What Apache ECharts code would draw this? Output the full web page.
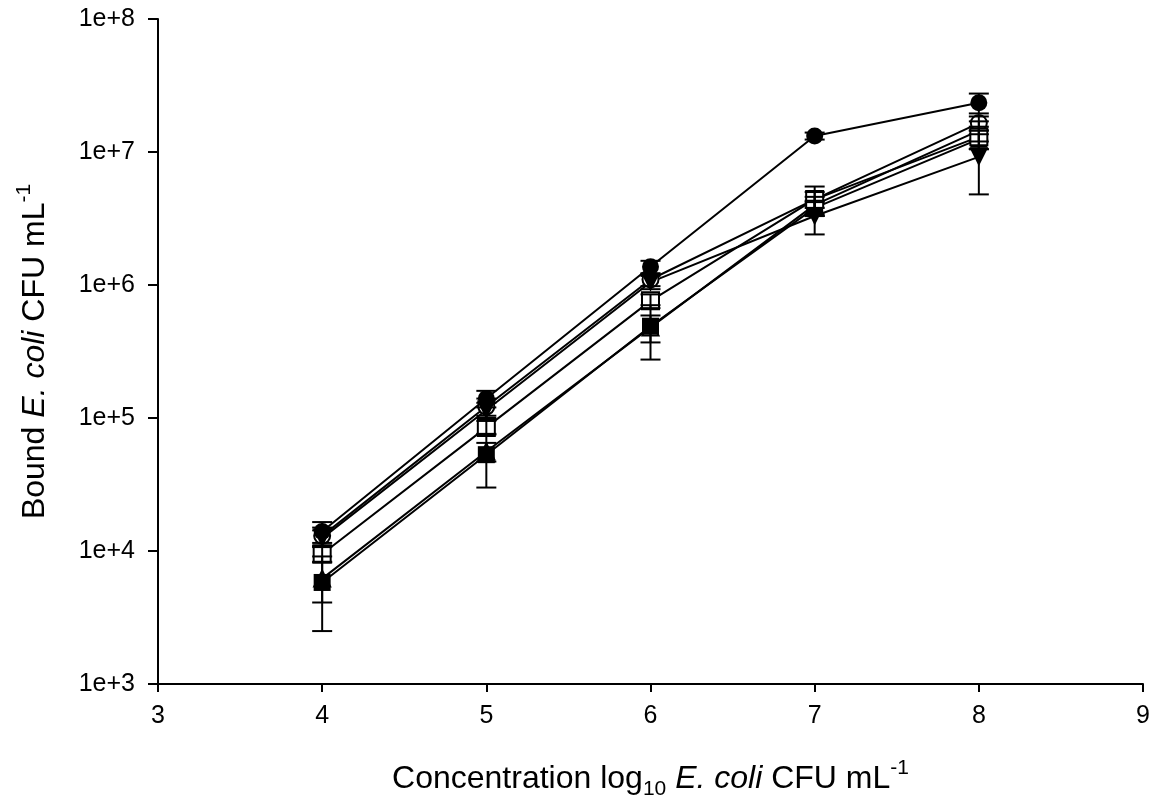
<!DOCTYPE html>
<html>
<head>
<meta charset="utf-8">
<script src="https://cdn.jsdelivr.net/npm/echarts@6/dist/echarts.min.js"></script>
<style>
html, body { margin: 0; padding: 0; background: #fff; }
#chart { width: 1154px; height: 805px; }
</style>
</head>
<body>
<div id="chart"></div>
<script>
// concentrations (log10 CFU/mL) on the x axis
var concentrations = [4, 5, 6, 7, 8];
var yTickLabels = ['1e+3', '1e+4', '1e+5', '1e+6', '1e+7', '1e+8'];

// bound E. coli, mean and error for each surface
var openTriangle      = [6.2e3, 5.6e4, 4.8e5, 4.0e6, 1.45e7];
var openTriangleErr   = [2.1e3, 9.0e3, 1.1e5, 6.0e5, 2.5e6];
var openCircle        = [1.3e4, 1.22e5, 1.1e6, 4.4e6, 1.65e7];
var openCircleErr     = [2.0e3, 1.8e4, 1.2e5, 6.0e5, 2.0e6];
var filledSquare      = [5.8e3, 5.3e4, 4.9e5, 3.8e6, 1.25e7];
var filledSquareErr   = [3.3e3, 2.3e4, 2.15e5, 5.0e5, 2.0e6];
var filledCircle      = [1.4e4, 1.4e5, 1.37e6, 1.32e7, 2.35e7];
var filledCircleErr   = [2.5e3, 2.0e4, 1.5e5, 8.0e5, 4.0e6];
var filledTriangle    = [1.25e4, 1.15e5, 1.05e6, 3.3e6, 9.2e6];
var filledTriangleErr = [1.8e3, 1.5e4, 1.2e5, 9.0e5, 4.4e6];
var openSquare        = [9.5e3, 8.5e4, 7.6e5, 4.4e6, 1.3e7];
var openSquareErr     = [1.3e3, 1.0e4, 9.0e4, 1.1e6, 2.5e6];

var FONT = 'Liberation Sans, Arial, sans-serif';

function pairs(vals) {
    return concentrations.map(function (x, i) { return [x, vals[i]]; });
}
function bars(vals, errs) {
    return concentrations.map(function (x, i) { return [x, vals[i] - errs[i], vals[i] + errs[i]]; });
}

function errorBarItem(params, api) {
    var x = api.value(0);
    var top = api.coord([x, api.value(2)]);
    var bot = api.coord([x, api.value(1)]);
    var half = 10;
    var st = { stroke: '#000', lineWidth: 2 };
    return {
        type: 'group',
        children: [
            { type: 'line', shape: { x1: top[0], y1: top[1], x2: bot[0], y2: bot[1] }, style: st },
            { type: 'line', shape: { x1: top[0] - half, y1: top[1], x2: top[0] + half, y2: top[1] }, style: st },
            { type: 'line', shape: { x1: bot[0] - half, y1: bot[1], x2: bot[0] + half, y2: bot[1] }, style: st }
        ]
    };
}

function lineSeries(vals, symbol, filled, rotate, size) {
    return {
        type: 'line',
        data: pairs(vals),
        symbol: symbol,
        symbolSize: size,
        symbolRotate: rotate,
        showAllSymbol: true,
        lineStyle: { color: '#000', width: 2 },
        itemStyle: {
            color: filled ? '#000' : '#fff',
            borderColor: '#000',
            borderWidth: filled ? 0 : 2,
            opacity: 1
        },
        emphasis: { disabled: true },
        z: 2
    };
}

function errSeries(vals, errs) {
    return {
        type: 'custom',
        data: bars(vals, errs),
        renderItem: errorBarItem,
        encode: { x: 0, y: [1, 2] },
        z: 3,
        silent: true
    };
}

var groups = [
    [openTriangle, openTriangleErr, 'triangle', false, 0, 16],
    [openCircle, openCircleErr, 'circle', false, 0, 16],
    [filledSquare, filledSquareErr, 'rect', true, 0, 17],
    [filledCircle, filledCircleErr, 'circle', true, 0, 17],
    [filledTriangle, filledTriangleErr, 'triangle', true, 180, 19],
    [openSquare, openSquareErr, 'rect', false, 0, 17]
];

var series = [];
groups.forEach(function (g) {
    series.push(lineSeries(g[0], g[2], g[3], g[4], g[5]));
});
groups.forEach(function (g) {
    series.push(errSeries(g[0], g[1]));
});

var richTitle = {
    n: { fontSize: 32, fontFamily: FONT, color: '#000', lineHeight: 42, verticalAlign: 'middle' },
    i: { fontSize: 32, fontFamily: FONT, color: '#000', fontStyle: 'italic', lineHeight: 42, verticalAlign: 'middle' },
    sub: { fontSize: 21, fontFamily: FONT, color: '#000', lineHeight: 42, verticalAlign: 'bottom' },
    sup: { fontSize: 21, fontFamily: FONT, color: '#000', lineHeight: 42, verticalAlign: 'top' }
};

var myChart = echarts.init(document.getElementById('chart'));
myChart.setOption({
    backgroundColor: '#fff',
    animation: false,
    grid: { left: 158, right: 11, top: 19, bottom: 120 },
    xAxis: {
        type: 'value',
        min: 3,
        max: 9,
        interval: 1,
        splitLine: { show: false },
        axisLine: { lineStyle: { color: '#000', width: 2 } },
        axisTick: { length: 8, lineStyle: { color: '#000', width: 2 } },
        axisLabel: { color: '#000', fontSize: 25, fontFamily: FONT, margin: 20 },
        name: '{n|Concentration log}{sub|10}{n| }{i|E. coli}{n| CFU mL}{sup|-1}',
        nameLocation: 'middle',
        nameGap: 74,
        nameTextStyle: { color: '#000', fontFamily: FONT, fontSize: 32, rich: richTitle }
    },
    yAxis: {
        type: 'log',
        logBase: 10,
        min: 1e3,
        max: 1e8,
        splitLine: { show: false },
        minorTick: { show: false },
        axisLine: { lineStyle: { color: '#000', width: 2 } },
        axisTick: { length: 10, lineStyle: { color: '#000', width: 2 } },
        axisLabel: {
            color: '#000',
            fontSize: 25,
            fontFamily: FONT,
            margin: 23,
            formatter: function (v) {
                return yTickLabels[Math.round(Math.log10(v)) - 3];
            }
        },
        name: '{n|Bound }{i|E. coli}{n| CFU mL}{sup|-1}',
        nameLocation: 'middle',
        nameGap: 102,
        nameTextStyle: { color: '#000', fontFamily: FONT, fontSize: 32, rich: richTitle }
    },
    series: series
});
</script>
</body>
</html>
